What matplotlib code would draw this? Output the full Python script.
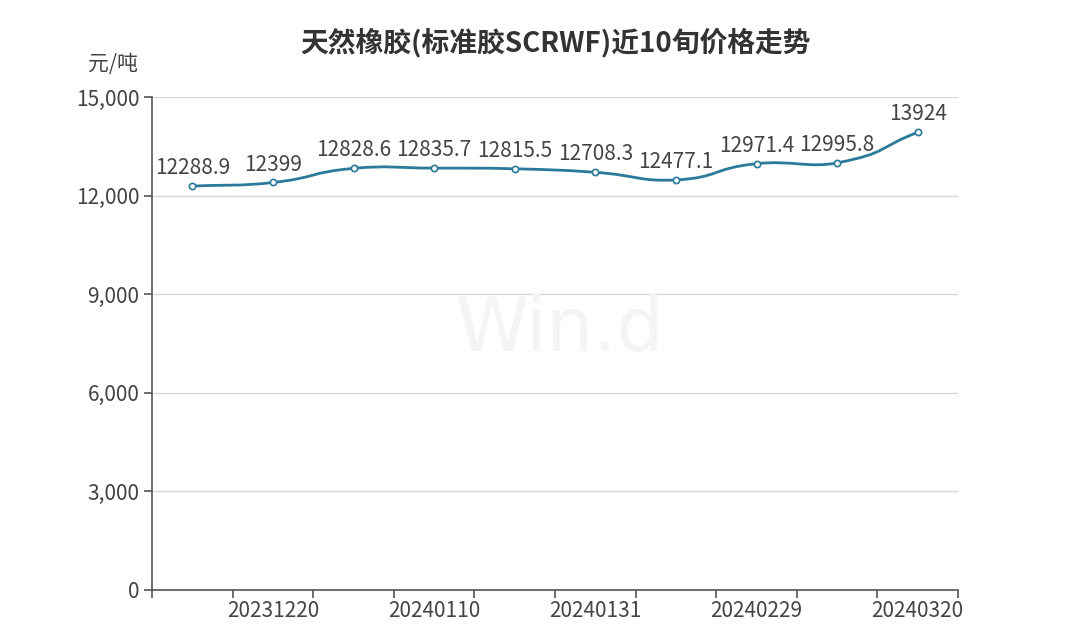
import matplotlib
matplotlib.use("Agg")
import matplotlib.pyplot as plt
from matplotlib.path import Path
from matplotlib.patches import PathPatch
import numpy as np

plt.rcParams['font.family'] = ['Noto Sans CJK SC', 'DejaVu Sans']

dates = ["20231210", "20231220", "20231231", "20240110", "20240120",
         "20240131", "20240220", "20240229", "20240310", "20240320"]
prices = [12288.9, 12399, 12828.6, 12835.7, 12815.5,
          12708.3, 12477.1, 12971.4, 12995.8, 13924]
label_texts = ["12288.9", "12399", "12828.6", "12835.7", "12815.5",
               "12708.3", "12477.1", "12971.4", "12995.8", "13924"]
y_ticks = [0, 3000, 6000, 9000, 12000, 15000]

title = "天然橡胶(标准胶SCRWF)近10旬价格走势"
unit = "元/吨"

line_color = "#2b7a99"
text_color = "#444444"

W, H = 1077, 639
fig = plt.figure(figsize=(W / 100, H / 100), dpi=100)
ax = fig.add_axes([152 / W, 1 - 590 / H, (958 - 152) / W, (590 - 97) / H])

x = np.arange(len(dates))
y = np.array(prices)

# smooth bezier path (echarts-like smoothing)
smooth = 0.5
verts = [(x[0], y[0])]
codes = [Path.MOVETO]
n = len(x)
def cps(i):
    p = np.array([x[i], y[i]])
    prev = np.array([x[max(i - 1, 0)], y[max(i - 1, 0)]])
    nxt = np.array([x[min(i + 1, n - 1)], y[min(i + 1, n - 1)]])
    v = nxt - prev
    d0 = np.hypot(*(p - prev) * [1, 1 / 600.0])
    d1 = np.hypot(*(nxt - p) * [1, 1 / 600.0])
    tot = d0 + d1 if d0 + d1 > 0 else 1
    return p - v * smooth * d0 / tot, p + v * smooth * d1 / tot
for i in range(n - 1):
    _, c_after = cps(i)
    c_before, _ = cps(i + 1)
    verts += [tuple(c_after), tuple(c_before), (x[i + 1], y[i + 1])]
    codes += [Path.CURVE4] * 3
ax.add_patch(PathPatch(Path(verts, codes), fill=False, edgecolor=line_color,
                       lw=2.0, zorder=3, capstyle='round'))
ax.plot(x, y, 'o', ms=4.5, mfc='white', mec=line_color, mew=1.2, zorder=4)

for xi, yi, t in zip(x, y, label_texts):
    ax.annotate(t, (xi, yi), xytext=(0, 5), textcoords='offset points',
                ha='center', va='bottom', fontsize=15, color=text_color, zorder=5)

ax.set_xlim(-0.5, n - 0.5)
ax.set_ylim(0, 15000)
ax.set_yticks(y_ticks)
ax.set_yticklabels([f"{v:,}" for v in y_ticks])
ax.set_xticks(np.arange(-0.5, n, 1.0))
ax.set_xticklabels([])
ax.set_xticks(x[1::2], minor=True)
ax.set_xticklabels([dates[i] for i in range(1, n, 2)], minor=True)
ax.tick_params(axis='x', which='minor', length=0, pad=7, labelsize=15, labelcolor=text_color)
ax.tick_params(axis='x', which='major', length=6, color='#555555', width=1.2)
ax.tick_params(axis='y', length=6, color='#555555', width=1.2, pad=3,
               labelsize=15, labelcolor=text_color)

ax.grid(axis='y', color='#d8d8d8', lw=1.0)
ax.set_axisbelow(True)
for s in ['top', 'right']:
    ax.spines[s].set_visible(False)
for s in ['left', 'bottom']:
    ax.spines[s].set_color('#555555')
    ax.spines[s].set_linewidth(1.2)

fig.text(560 / W, 1 - 330 / H, "Win.d", ha='center', va='center', fontsize=53,
         color='#f4f4f4', zorder=0, family='DejaVu Sans')
fig.text(555 / W, 1 - 43 / H, title, ha='center', va='center', fontsize=20,
         fontweight='heavy', color='#333333')
fig.text(113 / W, 1 - 64 / H, unit, ha='center', va='center', fontsize=15,
         color=text_color)

fig.savefig("out.png", dpi=100, facecolor='white')
